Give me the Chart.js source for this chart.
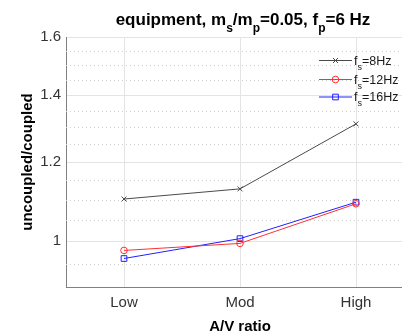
<!DOCTYPE html>
<html>
<head>
<meta charset="utf-8">
<script src="https://cdn.jsdelivr.net/npm/chart.js@4.4.1/dist/chart.umd.min.js"></script>
<style>
html, body { margin: 0; padding: 0; background: #fff; overflow: hidden; }
#wrap { width: 420px; height: 336px; }
</style>
</head>
<body>
<div id="wrap"><canvas id="chart" width="420" height="336"></canvas></div>
<script>
// values (log y axis)
var categories = ['Low', 'Mod', 'High'];
var fs8 = [1.102, 1.128, 1.31];
var fs12 = [0.979, 0.995, 1.09];
var fs16 = [0.961, 1.006, 1.094];
var yTicks = [1, 1.2, 1.4, 1.6];
var yMinorTicks = [0.95, 1.05, 1.1, 1.15, 1.25, 1.3, 1.35, 1.45, 1.5, 1.55];
var legendNames = ['8Hz', '12Hz', '16Hz'];

var FONT = '"Liberation Sans", Arial, sans-serif';

function drawMarker(ctx, style, color, x, y, r) {
	ctx.save();
	ctx.strokeStyle = color;
	ctx.lineWidth = 1;
	ctx.beginPath();
	if (style === 'crossRot') {
		var d = r * Math.SQRT1_2;
		ctx.moveTo(x - d, y - d); ctx.lineTo(x + d, y + d);
		ctx.moveTo(x - d, y + d); ctx.lineTo(x + d, y - d);
	} else if (style === 'circle') {
		ctx.arc(x, y, r, 0, Math.PI * 2);
	} else {
		var s = r * Math.SQRT1_2;
		ctx.rect(x - s, y - s, 2 * s, 2 * s);
	}
	ctx.stroke();
	ctx.restore();
}

// dotted minor grid lines, placed with the y scale
var minorGrid = {
	id: 'minorGrid',
	beforeDatasetsDraw: function (chart) {
		var ctx = chart.ctx, area = chart.chartArea, y = chart.scales.y;
		ctx.save();
		ctx.strokeStyle = '#cfcfcf';
		ctx.lineWidth = 1;
		ctx.setLineDash([1, 3]);
		yMinorTicks.forEach(function (v) {
			var py = Math.round(y.getPixelForValue(v)) + 0.5;
			ctx.beginPath();
			ctx.moveTo(area.left, py);
			ctx.lineTo(area.right, py);
			ctx.stroke();
		});
		ctx.restore();
	}
};

// text with subscripts: parts = [[text, isSub], ...]
function drawParts(ctx, parts, x, y, size, subSize, bold, align) {
	var w = 0, fw = bold ? 'bold ' : '';
	parts.forEach(function (p) {
		ctx.font = fw + (p[1] ? subSize : size) + 'px ' + FONT;
		w += ctx.measureText(p[0]).width;
	});
	var cx = align === 'center' ? x - w / 2 : x;
	ctx.textAlign = 'left';
	ctx.textBaseline = 'alphabetic';
	parts.forEach(function (p) {
		ctx.font = fw + (p[1] ? subSize : size) + 'px ' + FONT;
		ctx.fillText(p[0], cx, p[1] ? y + size * 0.4 : y);
		cx += ctx.measureText(p[0]).width;
	});
}

var titleAndLegend = {
	id: 'titleAndLegend',
	afterDraw: function (chart) {
		var ctx = chart.ctx, area = chart.chartArea;
		ctx.save();
		ctx.fillStyle = '#000';
		drawParts(ctx, [['equipment, m', 0], ['s', 1], ['/m', 0], ['p', 1], ['=0.05, f', 0], ['p', 1], ['=6 Hz', 0]],
			(area.left + area.right) / 2 + 3, 25, 17, 12, true, 'center');

		var rows = [60.5, 79.5, 97];
		chart.data.datasets.forEach(function (ds, i) {
			var ry = rows[i];
			ctx.strokeStyle = ds.borderColor;
			ctx.lineWidth = 1;
			ctx.beginPath();
			ctx.moveTo(319, ry);
			ctx.lineTo(352, ry);
			ctx.stroke();
			drawMarker(ctx, ds.pointStyle, ds.borderColor, 335.5, ry, ds.pointRadius);
			ctx.fillStyle = '#1a1a1a';
			drawParts(ctx, [['f', 0], ['s', 1], ['=' + legendNames[i], 0]], 354, ry + 4, 12.5, 9, false, 'left');
		});
		ctx.restore();
	}
};

var chart = new Chart(document.getElementById('chart'), {
	type: 'line',
	data: {
		labels: categories,
		datasets: [{
			data: fs8,
			borderColor: '#4a4a4a',
			pointStyle: 'crossRot',
			pointRadius: 3.5
		}, {
			data: fs12,
			borderColor: '#ff3030',
			pointStyle: 'circle',
			pointRadius: 3.3
		}, {
			data: fs16,
			borderColor: '#2020ff',
			pointStyle: 'rect',
			pointRadius: 4
		}].map(function (d) {
			d.borderWidth = 1;
			d.tension = 0;
			d.backgroundColor = 'rgba(0,0,0,0)';
			d.pointBorderColor = d.borderColor;
			d.pointBackgroundColor = 'rgba(0,0,0,0)';
			d.pointBorderWidth = 1;
			d.pointHoverRadius = d.pointRadius;
			return d;
		})
	},
	options: {
		responsive: false,
		animation: false,
		events: [],
		layout: { padding: { top: 37, right: 6, left: 0, bottom: 0 } },
		plugins: { legend: { display: false }, tooltip: { enabled: false } },
		scales: {
			x: {
				offset: true,
				grid: { color: '#e4e4e4', drawTicks: false, offset: false },
				border: { color: '#808080' },
				ticks: { color: '#333', font: { family: FONT, size: 15 }, padding: 7, maxRotation: 0 },
				title: { display: true, text: 'A/V ratio', color: '#000', font: { family: FONT, size: 15, weight: 'bold' }, padding: { top: 0, bottom: 0 } },
				afterFit: function (s) { s.height = 49; }
			},
			y: {
				type: 'logarithmic',
				min: 0.9,
				max: 1.6,
				grid: { color: '#e4e4e4', drawTicks: false },
				border: { color: '#808080' },
				ticks: {
					color: '#333',
					font: { family: FONT, size: 15 },
					padding: 5,
					callback: function (v) { return String(v); }
				},
				afterBuildTicks: function (s) {
					s.ticks = yTicks.map(function (v) { return { value: v }; });
				},
				title: { display: true, text: 'uncoupled/coupled', color: '#000', font: { family: FONT, size: 15, weight: 'bold' }, padding: { top: 19, bottom: 0 } },
				afterFit: function (s) { s.width = 66; }
			}
		}
	},
	plugins: [minorGrid, titleAndLegend]
});
</script>
</body>
</html>
